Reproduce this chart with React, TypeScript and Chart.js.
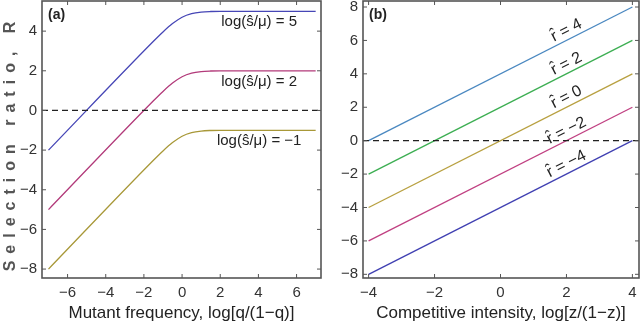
import React, { useEffect, useRef } from "react";
import { Chart, registerables } from "chart.js";
Chart.register(...registerables);

// Panel (a): mutant frequency log[q/(1-q)]
const freqX = [-7, -1.5, -1, -0.5, 0, 0.5, 1, 1.5, 2, 7];
const curveS5 = [-2, 3.49, 3.96, 4.38, 4.7, 4.88, 4.96, 4.99, 5, 5];
const curveS2 = [-5, 0.49, 0.96, 1.38, 1.7, 1.88, 1.96, 1.99, 2, 2];
const curveSm1 = [-8, -2.51, -2.04, -1.62, -1.3, -1.12, -1.04, -1.01, -1, -1];
const plateausA = [5, 2, -1];
const labelsA = ["log(ŝ/μ) = 5", "log(ŝ/μ) = 2", "log(ŝ/μ) = −1"];
const ticksAX = [-6, -4, -2, 0, 2, 4, 6];
const ticksAY = [-8, -6, -4, -2, 0, 2, 4];

// Panel (b): competitive intensity log[z/(1-z)]
const compX = [-4, 4];
const lineR4 = [0, 8];
const lineR2 = [-2, 6];
const lineR0 = [-4, 4];
const lineRm2 = [-6, 2];
const lineRm4 = [-8, 0];
const rValues = [4, 2, 0, -2, -4];
const labelsB = ["4", "2", "0", "−2", "−4"];
const ticksBX = [-4, -2, 0, 2, 4];
const ticksBY = [-8, -6, -4, -2, 0, 2, 4, 6, 8];

const FONT = "'Liberation Sans', Arial, sans-serif";
const fmt = (v: number) => String(v).replace("-", "−");

function frameTicksPlugin(xt: number[], yt: number[], panel: string, extra: (c: any) => void) {
  return {
    id: "frame" + panel,
    afterDatasetsDraw(chart: any) {
      const { ctx, chartArea: a, scales } = chart;
      const xs = scales.x, ys = scales.y;
      ctx.save();
      ctx.strokeStyle = "#222";
      ctx.lineWidth = 1.2;
      ctx.setLineDash([6, 4]);
      const y0 = ys.getPixelForValue(0);
      ctx.beginPath();
      ctx.moveTo(a.left, y0);
      ctx.lineTo(a.right, y0);
      ctx.stroke();
      ctx.setLineDash([]);
      ctx.strokeStyle = "#555";
      ctx.lineWidth = 1.6;
      ctx.strokeRect(a.left, a.top, a.right - a.left, a.bottom - a.top);
      ctx.lineWidth = 1;
      const L = 4;
      ctx.beginPath();
      for (const t of xt) {
        const px = xs.getPixelForValue(t);
        ctx.moveTo(px, a.bottom);
        ctx.lineTo(px, a.bottom - L);
        ctx.moveTo(px, a.top);
        ctx.lineTo(px, a.top + L);
      }
      for (const t of yt) {
        const py = ys.getPixelForValue(t);
        ctx.moveTo(a.left, py);
        ctx.lineTo(a.left + L, py);
        ctx.moveTo(a.right, py);
        ctx.lineTo(a.right - L, py);
      }
      ctx.stroke();
      ctx.fillStyle = "#222";
      ctx.font = "bold 14px " + FONT;
      ctx.textBaseline = "middle";
      ctx.textAlign = "left";
      ctx.fillText(panel, a.left + 6, 15);
      extra(chart);
      ctx.restore();
    },
  };
}

const noPad = (s: any) => {
  s.paddingTop = 0;
  s.paddingBottom = 0;
  s.paddingLeft = 0;
  s.paddingRight = 0;
};

function makeOptions(xmin: number, xmax: number, ymin: number, ymax: number, xt: number[], yt: number[], yWidth: number, title: string) {
  return {
    responsive: false,
    animation: false as const,
    maintainAspectRatio: false,
    layout: { padding: { top: 1, right: 1, left: 0, bottom: 0 } },
    plugins: { legend: { display: false }, tooltip: { enabled: false } },
    elements: { point: { radius: 0 }, line: { borderWidth: 1.3 } },
    scales: {
      x: {
        type: "linear" as const,
        min: xmin,
        max: xmax,
        grid: { display: false, drawTicks: false },
        border: { display: false },
        afterBuildTicks: (s: any) => { s.ticks = xt.map((v) => ({ value: v })); },
        afterFit: (s: any) => { s.height = 47; noPad(s); },
        ticks: { color: "#333", font: { family: FONT, size: 15 }, padding: 6, maxRotation: 0, callback: (v: any) => fmt(v) },
        title: { display: true, text: title, color: "#222", font: { family: FONT, size: 17 }, padding: { top: 0, bottom: 1 } },
      },
      y: {
        type: "linear" as const,
        min: ymin,
        max: ymax,
        grid: { display: false, drawTicks: false },
        border: { display: false },
        afterBuildTicks: (s: any) => { s.ticks = yt.map((v) => ({ value: v })); },
        afterFit: (s: any) => { s.width = yWidth; noPad(s); },
        ticks: { color: "#333", font: { family: FONT, size: 15 }, padding: 5, callback: (v: any) => fmt(v) },
      },
    },
  };
}

export default function App() {
  const refA = useRef<HTMLCanvasElement>(null);
  const refB = useRef<HTMLCanvasElement>(null);

  useEffect(() => {
    const seriesA = [curveS5, curveS2, curveSm1];
    const colorsA = ["#4646b6", "#b23a7a", "#a89838"];
    const chartA = new Chart(refA.current!, {
      type: "line",
      data: {
        datasets: seriesA.map((s, i) => ({
          data: freqX.map((x, j) => ({ x, y: s[j] })),
          borderColor: colorsA[i],
          cubicInterpolationMode: "monotone" as const,
          fill: false,
        })),
      },
      options: makeOptions(-7.34, 7.28, -8.45, 5.52, ticksAX, ticksAY, 42, "Mutant frequency, log[q/(1−q)]") as any,
      plugins: [
        frameTicksPlugin(ticksAX, ticksAY, "(a)", (chart: any) => {
          const { ctx, scales } = chart;
          ctx.fillStyle = "#222";
          ctx.font = "15px " + FONT;
          ctx.textAlign = "center";
          ctx.textBaseline = "middle";
          plateausA.forEach((p, i) => {
            ctx.fillText(labelsA[i], scales.x.getPixelForValue(4.04), scales.y.getPixelForValue(p - 0.55));
          });
          ctx.save();
          ctx.translate(11, 143);
          ctx.rotate(-Math.PI / 2);
          ctx.font = "bold 16px " + FONT;
          (ctx as any).letterSpacing = "7px";
          ctx.fillStyle = "#555";
          ctx.fillText("Selection ratio, R", 0, 0);
          ctx.restore();
        }),
      ],
    });

    const seriesB = [lineR4, lineR2, lineR0, lineRm2, lineRm4];
    const colorsB = ["#4a88c0", "#3cae52", "#b8a040", "#c04082", "#4040b2"];
    const chartB = new Chart(refB.current!, {
      type: "line",
      data: {
        datasets: seriesB.map((s, i) => ({
          data: compX.map((x, j) => ({ x, y: s[j] })),
          borderColor: colorsB[i],
          fill: false,
        })),
      },
      options: makeOptions(-4.17, 4.2, -8.22, 8.36, ticksBX, ticksBY, 41, "Competitive intensity, log[z/(1−z)]") as any,
      plugins: [
        frameTicksPlugin(ticksBX, ticksBY, "(b)", (chart: any) => {
          const { ctx, scales } = chart;
          const xs = scales.x, ys = scales.y;
          const dx = xs.getPixelForValue(1) - xs.getPixelForValue(0);
          const dy = ys.getPixelForValue(1) - ys.getPixelForValue(0);
          const ang = Math.atan2(dy, dx);
          ctx.fillStyle = "#222";
          ctx.font = "16px " + FONT;
          ctx.textBaseline = "middle";
          rValues.forEach((r, i) => {
            const x = 2.0;
            const text = "r = " + labelsB[i];
            const w = ctx.measureText(text).width;
            const rw = ctx.measureText("r").width;
            ctx.save();
            ctx.translate(xs.getPixelForValue(x), ys.getPixelForValue(x + r + 0.6));
            ctx.rotate(ang);
            ctx.textAlign = "left";
            ctx.fillText(text, -w / 2, 0);
            ctx.textAlign = "center";
            ctx.fillText("ˆ", -w / 2 + rw / 2 + 0.5, -2);
            ctx.restore();
          });
        }),
      ],
    });

    return () => {
      chartA.destroy();
      chartB.destroy();
    };
  }, []);

  return (
    <div style={{ position: "fixed", left: 0, top: 0, width: 640, height: 325, background: "#fff" }}>
      <canvas ref={refA} width={322} height={325} style={{ position: "absolute", left: 0, top: 0, width: 322, height: 325 }} />
      <canvas ref={refB} width={318} height={325} style={{ position: "absolute", left: 322, top: 0, width: 318, height: 325 }} />
    </div>
  );
}
